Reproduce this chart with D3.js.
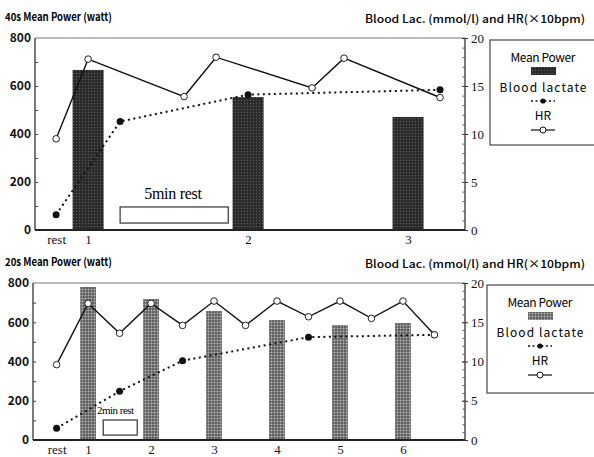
<!DOCTYPE html>
<html>
<head>
<meta charset="utf-8">
<script src="https://cdn.jsdelivr.net/npm/d3@7"></script>
<style>
  body { margin: 0; background: #fff; }
  .gothic { font-family: "Noto Sans CJK JP", "DejaVu Sans", sans-serif; }
  .serif { font-family: "Liberation Serif", "DejaVu Serif", serif; }
</style>
</head>
<body>
<div id="chart"></div>
<script>
// 40s bouts, 5 min rest (top panel) - time in minutes
var topBoutLabels = ["rest", "1", "2", "3"];
var topBoutTimes = [-1, 0, 5, 10];
var topPowerTimes = [0, 5, 10];
var topPower = [667, 554, 471];
var topHrTimes = [-1, 0, 3, 4, 7, 8, 11];
var topHr = [9.5, 17.8, 13.9, 18.0, 14.8, 17.9, 13.8];
var topLacTimes = [-1, 1, 5, 11];
var topLac = [1.6, 11.3, 14.1, 14.6];

// 20s bouts, 2 min rest (bottom panel)
var btmBoutLabels = ["rest", "1", "2", "3", "4", "5", "6"];
var btmBoutTimes = [-1, 0, 2, 4, 6, 8, 10];
var btmPowerTimes = [0, 2, 4, 6, 8, 10];
var btmPower = [780, 718, 657, 611, 586, 596];
var btmHrTimes = [-1, 0, 1, 2, 3, 4, 5, 6, 7, 8, 9, 10, 11];
var btmHr = [9.6, 17.4, 13.6, 17.4, 14.6, 17.7, 14.6, 17.7, 15.7, 17.7, 15.5, 17.7, 13.4];
var btmLacTimes = [-1, 1, 3, 7, 11];
var btmLac = [1.5, 6.2, 10.1, 13.1, 13.4];

var powerTicks = [0, 200, 400, 600, 800];
var rightTicks = [0, 5, 10, 15, 20];

var width = 594;
var height = 457;

var svg = d3.select("#chart")
  .append("svg")
  .attr("width", width)
  .attr("height", height);

// bar textures
var defs = svg.append("defs");
var dark = defs.append("pattern").attr("id", "darkDots")
  .attr("width", 3).attr("height", 3).attr("patternUnits", "userSpaceOnUse");
dark.append("rect").attr("width", 3).attr("height", 3).attr("fill", "#2a2a2a");
dark.append("circle").attr("cx", 1.5).attr("cy", 1.5).attr("r", 0.7).attr("fill", "#5a5a5a");

var light = defs.append("pattern").attr("id", "lightDots")
  .attr("width", 3).attr("height", 3).attr("patternUnits", "userSpaceOnUse");
light.append("rect").attr("width", 3).attr("height", 3).attr("fill", "#5c5c5c");
light.append("circle").attr("cx", 1.5).attr("cy", 1.5).attr("r", 1.0).attr("fill", "#b8b8b8");

function zip(a, b) {
  return a.map(function(d, i) { return [d, b[i]]; });
}

function drawPanel(p) {
  var g = svg.append("g");

  var x = d3.scaleLinear().domain(p.xDomain).range([p.left, p.right]);
  var y = d3.scaleLinear().domain([0, 800]).range([p.bottom, p.top]);
  var y2 = d3.scaleLinear().domain([0, 20]).range([p.bottom, p.top]);

  // titles
  g.append("text").attr("class", "gothic")
    .attr("x", 5).attr("y", p.titleY)
    .attr("font-size", 11).attr("font-weight", 700)
    .attr("textLength", 107).attr("lengthAdjust", "spacingAndGlyphs")
    .text(p.title);
  g.append("text").attr("class", "gothic")
    .attr("x", 365).attr("y", p.titleY + 2)
    .attr("font-size", 11).attr("font-weight", 500)
    .attr("textLength", 220).attr("lengthAdjust", "spacingAndGlyphs")
    .text("Blood Lac. (mmol/l) and HR(×10bpm)");

  // bars
  g.selectAll(".bar").data(p.power).enter().append("rect")
    .attr("x", function(d, i) { return x(p.powerTimes[i] - p.barW / 2); })
    .attr("width", x(p.barW) - x(0))
    .attr("y", function(d) { return y(d); })
    .attr("height", function(d) { return y(0) - y(d); })
    .attr("fill", "url(#" + p.pattern + ")");

  // rest note
  g.append("rect")
    .attr("x", x(p.note.t0)).attr("width", x(p.note.t1) - x(p.note.t0))
    .attr("y", y(p.note.v1)).attr("height", y(p.note.v0) - y(p.note.v1))
    .attr("fill", "#fff").attr("stroke", "#333").attr("stroke-width", 1.2);

  // lines
  var line = d3.line().x(function(d) { return x(d[0]); }).y(function(d) { return y2(d[1]); });
  var lac = zip(p.lacTimes, p.lac);
  var hr = zip(p.hrTimes, p.hr);

  g.append("path").datum(lac).attr("d", line)
    .attr("fill", "none").attr("stroke", "#111").attr("stroke-width", 2)
    .attr("stroke-dasharray", "2,3.5");
  g.append("path").datum(hr).attr("d", line)
    .attr("fill", "none").attr("stroke", "#111").attr("stroke-width", 1.4);

  g.append("text").attr("class", "serif")
    .attr("x", x(p.note.tx)).attr("y", y(p.note.vy))
    .attr("text-anchor", p.note.anchor)
    .attr("font-size", p.note.size)
    .attr("letter-spacing", p.note.spacing)
    .text(p.note.label);

  g.selectAll(".lacDot").data(lac).enter().append("circle")
    .attr("cx", function(d) { return x(d[0]); })
    .attr("cy", function(d) { return y2(d[1]); })
    .attr("r", 3.5).attr("fill", "#111");
  g.selectAll(".hrDot").data(hr).enter().append("circle")
    .attr("cx", function(d) { return x(d[0]); })
    .attr("cy", function(d) { return y2(d[1]); })
    .attr("r", 3.3).attr("fill", "#fff").attr("stroke", "#222").attr("stroke-width", 1);

  // frame
  g.append("line").attr("x1", p.left).attr("x2", p.right).attr("y1", p.top).attr("y2", p.top)
    .attr("stroke", "#777").attr("stroke-width", 1);
  g.append("line").attr("x1", p.left).attr("x2", p.right).attr("y1", p.bottom).attr("y2", p.bottom)
    .attr("stroke", "#222").attr("stroke-width", 2);
  g.append("line").attr("x1", p.left).attr("x2", p.left).attr("y1", p.top).attr("y2", p.bottom)
    .attr("stroke", "#333").attr("stroke-width", 1.3);
  g.append("line").attr("x1", p.right).attr("x2", p.right).attr("y1", p.top).attr("y2", p.bottom)
    .attr("stroke", "#333").attr("stroke-width", 1.3);

  // left axis
  var yAxis = g.append("g").attr("transform", "translate(" + p.left + ",0)")
    .call(d3.axisLeft(y).tickValues(powerTicks).tickSize(0).tickPadding(4));
  yAxis.select(".domain").remove();
  yAxis.selectAll("text").attr("class", "gothic").attr("font-size", 12)
    .attr("font-weight", 700).attr("fill", "#111");
  var yMinor = g.append("g").attr("transform", "translate(" + p.left + ",0)")
    .call(d3.axisLeft(y).tickValues(d3.range(100, 800, 100)).tickSize(-3).tickFormat(""));
  yMinor.select(".domain").remove();
  yMinor.selectAll("line").attr("stroke", "#444");

  // right axis
  var rAxis = g.append("g").attr("transform", "translate(" + p.right + ",0)")
    .call(d3.axisRight(y2).tickValues(rightTicks).tickSize(3).tickPadding(3));
  rAxis.select(".domain").remove();
  rAxis.selectAll("text").attr("class", "serif").attr("font-size", 13).attr("fill", "#111");
  rAxis.selectAll("line").attr("x1", -3).attr("stroke", "#333");
  var rMinor = g.append("g").attr("transform", "translate(" + p.right + ",0)")
    .call(d3.axisRight(y2).tickValues(d3.range(1, 20, 1)).tickSize(-2.5).tickFormat(""));
  rMinor.select(".domain").remove();
  rMinor.selectAll("line").attr("stroke", "#555");

  // bottom axis
  var xAxis = g.append("g").attr("transform", "translate(0," + p.bottom + ")")
    .call(d3.axisBottom(x).tickValues(p.boutTimes)
      .tickFormat(function(d, i) { return p.boutLabels[i]; })
      .tickSize(0).tickPadding(5));
  xAxis.select(".domain").remove();
  xAxis.selectAll("text").attr("class", "serif").attr("font-size", 13).attr("fill", "#111");

  // legend
  var L = p.legend;
  var lg = g.append("g");
  lg.append("rect").attr("x", L.x).attr("y", L.y).attr("width", 120).attr("height", L.h)
    .attr("fill", "#fff").attr("stroke", "#555").attr("stroke-width", 1.3);
  var cx = L.x + 53;
  lg.append("text").attr("class", "gothic").attr("x", cx).attr("y", L.y + 22)
    .attr("text-anchor", "middle").attr("font-size", 12).attr("font-weight", 400)
    .attr("textLength", 65).attr("lengthAdjust", "spacing").text("Mean Power");
  lg.append("rect").attr("x", cx - 12).attr("y", L.y + 27).attr("width", 25).attr("height", 8)
    .attr("fill", "url(#" + p.pattern + ")");
  lg.append("text").attr("class", "gothic").attr("x", cx).attr("y", L.y + 52)
    .attr("text-anchor", "middle").attr("font-size", 12).attr("font-weight", 400)
    .attr("textLength", 87).attr("lengthAdjust", "spacing").text("Blood lactate");
  lg.append("line").attr("x1", cx - 12).attr("x2", cx + 12).attr("y1", L.y + 61).attr("y2", L.y + 61)
    .attr("stroke", "#111").attr("stroke-width", 1.6).attr("stroke-dasharray", "2,2.5");
  lg.append("circle").attr("cx", cx).attr("cy", L.y + 61).attr("r", 2.6).attr("fill", "#111");
  lg.append("text").attr("class", "gothic").attr("x", cx).attr("y", L.y + 80)
    .attr("text-anchor", "middle").attr("font-size", 12).attr("font-weight", 400).text("HR");
  lg.append("line").attr("x1", cx - 12).attr("x2", cx + 12).attr("y1", L.y + 90).attr("y2", L.y + 90)
    .attr("stroke", "#111").attr("stroke-width", 1.2);
  lg.append("circle").attr("cx", cx).attr("cy", L.y + 90).attr("r", 3)
    .attr("fill", "#fff").attr("stroke", "#111").attr("stroke-width", 1);
}

drawPanel({
  title: "40s Mean Power (watt)", titleY: 21,
  left: 35, right: 465, top: 38, bottom: 230,
  xDomain: [-1.66, 11.78], barW: 0.97, pattern: "darkDots",
  boutLabels: topBoutLabels, boutTimes: topBoutTimes,
  power: topPower, powerTimes: topPowerTimes,
  hr: topHr, hrTimes: topHrTimes, lac: topLac, lacTimes: topLacTimes,
  note: { label: "5min rest", t0: 1.0, t1: 4.38, v0: 29, v1: 96, tx: 2.65, vy: 130,
          anchor: "middle", size: 16, spacing: -0.3 },
  legend: { x: 490, y: 40, h: 105 }
});

drawPanel({
  title: "20s Mean Power (watt)", titleY: 266,
  left: 33, right: 465, top: 283, bottom: 440,
  xDomain: [-1.75, 11.97], barW: 0.5, pattern: "lightDots",
  boutLabels: btmBoutLabels, boutTimes: btmBoutTimes,
  power: btmPower, powerTimes: btmPowerTimes,
  hr: btmHr, hrTimes: btmHrTimes, lac: btmLac, lacTimes: btmLacTimes,
  note: { label: "2min rest", t0: 0.48, t1: 1.56, v0: 25, v1: 102, tx: 0.28, vy: 132,
          anchor: "start", size: 11, spacing: -0.5 },
  legend: { x: 487, y: 285, h: 108 }
});
</script>
</body>
</html>
